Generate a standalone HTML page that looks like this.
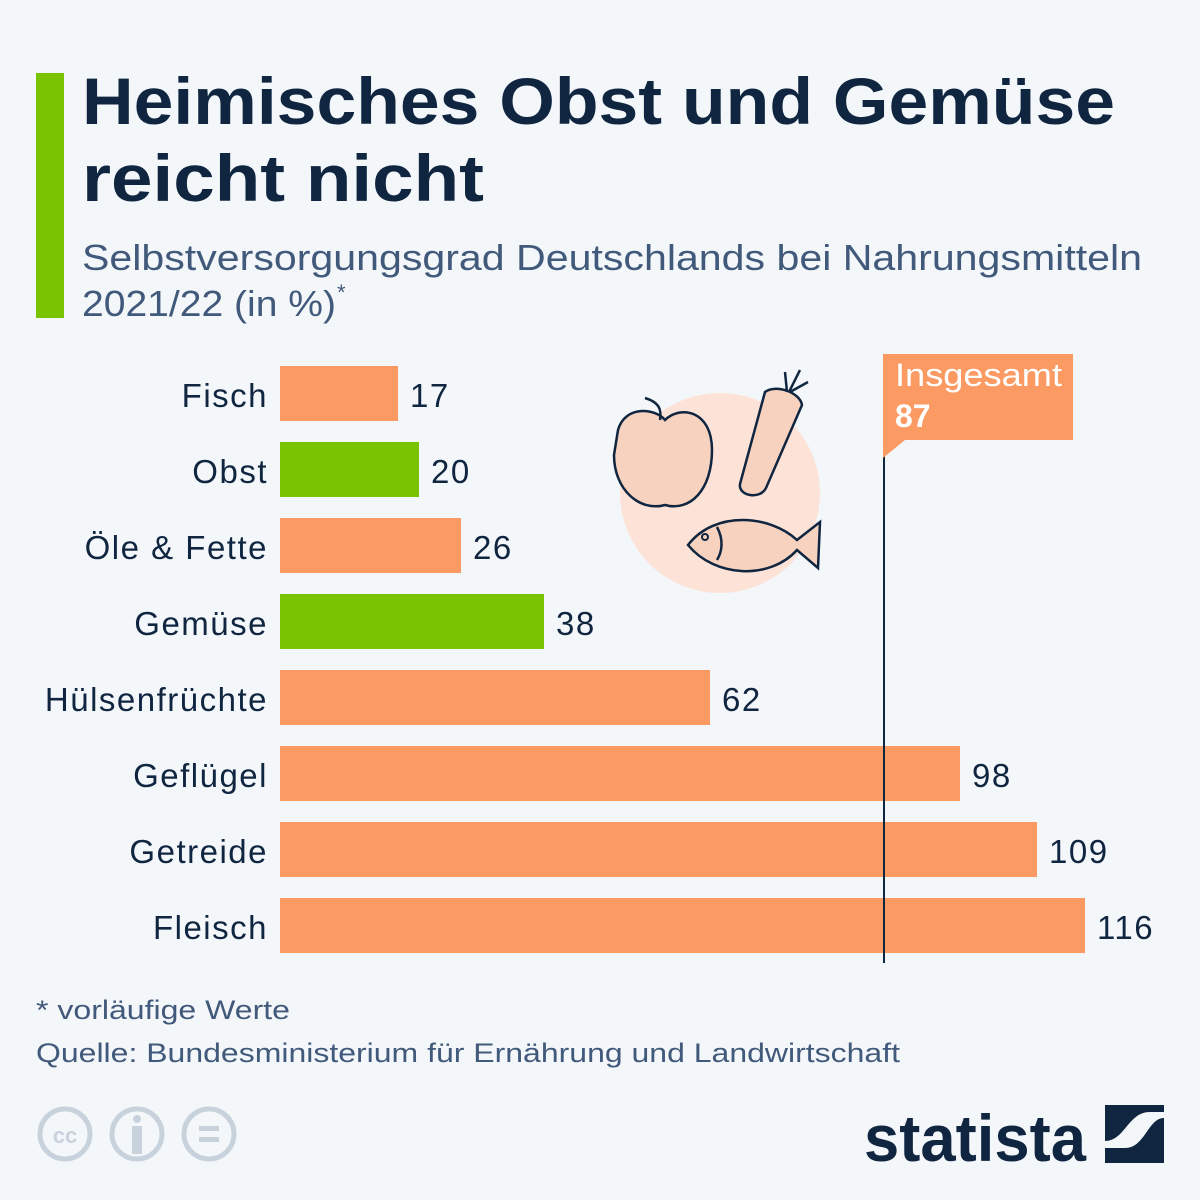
<!DOCTYPE html>
<html><head><meta charset="utf-8"><style>
html,body{margin:0;padding:0;background:#f4f7fa}
svg{display:block}
text{font-family:"Liberation Sans",sans-serif}
</style></head><body>
<svg width="1200" height="1200" viewBox="0 0 1200 1200" xmlns="http://www.w3.org/2000/svg">
<rect width="1200" height="1200" fill="#f4f7fa"/>
<rect x="36" y="73" width="28" height="245" fill="#7ac303"/>
<text x="82" y="124" font-size="66" font-weight="bold" fill="#0f2540" textLength="1033" lengthAdjust="spacingAndGlyphs">Heimisches Obst und Gemüse</text>
<text x="82" y="201" font-size="66" font-weight="bold" fill="#0f2540" textLength="402" lengthAdjust="spacingAndGlyphs">reicht nicht</text>
<text x="82" y="270" font-size="36" fill="#41597a" textLength="1060" lengthAdjust="spacingAndGlyphs">Selbstversorgungsgrad Deutschlands bei Nahrungsmitteln</text>
<text x="82" y="316" font-size="36" fill="#41597a" textLength="254" lengthAdjust="spacingAndGlyphs">2021/22 (in %)</text>
<text x="337" y="300" font-size="22" fill="#41597a">*</text>

<!-- illustration -->
<circle cx="720" cy="493" r="100" fill="#fde3d7"/>
<path d="M618 430 C625 405 655 408 665 420 C680 405 712 410 712 450 C712 490 690 512 665 505 C640 512 614 490 614 455 Z" fill="#f7d2bf" stroke="#0f2540" stroke-width="2.5"/>
<path d="M660 420 C662 408 658 402 645 398" fill="none" stroke="#0f2540" stroke-width="2.5"/>
<path d="M765 392 C775 384 800 392 802 405 L766 488 C760 500 738 496 740 484 Z" fill="#f7d2bf" stroke="#0f2540" stroke-width="2.5"/>
<path d="M787 392 L785 372 M789 392 L800 370 M790 392 L808 382" stroke="#0f2540" stroke-width="2.5" fill="none"/>
<path d="M688 545 C715 510 770 515 797 540 L820 522 L818 568 L797 550 C770 580 715 578 688 545 Z" fill="#f7d2bf" stroke="#0f2540" stroke-width="2.5"/>
<circle cx="705" cy="537" r="3" fill="none" stroke="#0f2540" stroke-width="2"/>
<path d="M717 527 C724 540 722 552 717 560" fill="none" stroke="#0f2540" stroke-width="2.5"/>

<!-- reference line -->
<rect x="883" y="450" width="2" height="513" fill="#0f2540"/>
<path d="M883 354 H1073 V440 H905 L883 458 Z" fill="#fb9a63"/>
<text x="895" y="386" font-size="32" fill="#fff" textLength="167" lengthAdjust="spacingAndGlyphs">Insgesamt</text>
<text x="895" y="427" font-size="32" font-weight="bold" fill="#fff">87</text>

<g font-size="33" fill="#0f2540" letter-spacing="1.5">
<rect x="280" y="366" width="118" height="55" fill="#fb9a63"/>
<text x="268" y="407" text-anchor="end">Fisch</text><text x="410" y="407">17</text>
<rect x="280" y="442" width="139" height="55" fill="#7ac303"/>
<text x="268" y="483" text-anchor="end">Obst</text><text x="431" y="483">20</text>
<rect x="280" y="518" width="181" height="55" fill="#fb9a63"/>
<text x="268" y="559" text-anchor="end">Öle &amp; Fette</text><text x="473" y="559">26</text>
<rect x="280" y="594" width="264" height="55" fill="#7ac303"/>
<text x="268" y="635" text-anchor="end">Gemüse</text><text x="556" y="635">38</text>
<rect x="280" y="670" width="430" height="55" fill="#fb9a63"/>
<text x="268" y="711" text-anchor="end">Hülsenfrüchte</text><text x="722" y="711">62</text>
<rect x="280" y="746" width="680" height="55" fill="#fb9a63"/>
<text x="268" y="787" text-anchor="end">Geflügel</text><text x="972" y="787">98</text>
<rect x="280" y="822" width="757" height="55" fill="#fb9a63"/>
<text x="268" y="863" text-anchor="end">Getreide</text><text x="1049" y="863">109</text>
<rect x="280" y="898" width="805" height="55" fill="#fb9a63"/>
<text x="268" y="939" text-anchor="end">Fleisch</text><text x="1097" y="939">116</text>
</g>
<rect x="883" y="746" width="2" height="55" fill="#0f2540"/>
<rect x="883" y="822" width="2" height="55" fill="#0f2540"/>
<rect x="883" y="898" width="2" height="55" fill="#0f2540"/>

<text x="36" y="1019" font-size="27" fill="#41597a" textLength="254" lengthAdjust="spacingAndGlyphs">* vorläufige Werte</text>
<text x="36" y="1062" font-size="27" fill="#41597a" textLength="864" lengthAdjust="spacingAndGlyphs">Quelle: Bundesministerium für Ernährung und Landwirtschaft</text>

<g fill="none" stroke="#c8d2dc" stroke-width="5">
<circle cx="65" cy="1134" r="25"/><circle cx="137" cy="1134" r="25"/><circle cx="209" cy="1134" r="25"/>
</g>
<text x="65" y="1143" font-size="22" font-weight="bold" fill="#c8d2dc" text-anchor="middle">cc</text>
<circle cx="137" cy="1119" r="4" fill="#c8d2dc"/>
<rect x="132" y="1126" width="10" height="28" fill="#c8d2dc"/>
<rect x="199" y="1126" width="20" height="5" fill="#c8d2dc"/>
<rect x="199" y="1137" width="20" height="5" fill="#c8d2dc"/>

<text x="864" y="1161" font-size="66" font-weight="bold" fill="#0f2540" textLength="222" lengthAdjust="spacingAndGlyphs">statista</text>
<rect x="1105" y="1105" width="59" height="58" fill="#0f2540"/>
<path d="M1105 1141 C1125 1141 1128 1112 1150 1112 L1164 1112 L1164 1118 C1148 1118 1145 1148 1125 1148 L1105 1148 Z" fill="#f4f7fa"/>
</svg>
</body></html>
